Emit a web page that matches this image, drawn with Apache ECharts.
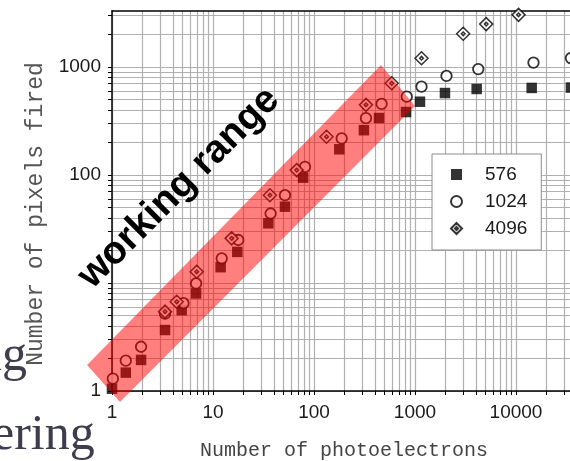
<!DOCTYPE html>
<html><head><meta charset="utf-8">
<script src="https://cdn.jsdelivr.net/npm/echarts@6/dist/echarts.min.js"></script>
<style>html,body{margin:0;padding:0;background:#fff}#c{width:570px;height:461px}</style>
</head><body><div id="c"></div>
<script>
// ---- data ----
const seriesNames = ['576', '1024', '4096'];
const x576 = [1.0, 1.37, 1.94, 3.35, 4.9, 6.8, 11.9, 17.4, 35.3, 51.6, 78, 178, 312, 440, 815, 1120, 1980, 4080, 14300, 35000];
const y576 = [1.05, 1.48, 1.94, 3.67, 5.6, 8.0, 14, 19.4, 35.7, 50.9, 94.5, 173, 260, 337, 383, 477, 574, 626, 640, 645];
const x1024 = [1.02, 1.37, 1.94, 3.35, 5.1, 6.8, 12.2, 17.8, 37.2, 51.6, 81.5, 188, 327, 467, 829, 1160, 2050, 4230, 14900, 35000];
const y1024 = [1.3, 1.91, 2.57, 5.2, 6.5, 9.9, 16.9, 25, 44, 65, 119, 218, 336, 455, 532, 658, 826, 957, 1098, 1210];
const x4096 = [3.35, 4.37, 6.9, 15.3, 36.6, 67.4, 133, 327, 588, 1160, 3000, 5070, 10600];
const y4096 = [5.43, 6.7, 12.7, 25.9, 65, 111, 226, 446, 707, 1206, 2030, 2495, 3040];
// working-range band corners (data space)
const bandX = [0.566, 1.2, 1000, 461];
const bandY = [1.74, 0.79, 435, 1044];
// axis ticks / labels
const xLabels = [1, 10, 100, 1000, 10000];
const yLabels = [1, 100, 1000];
const xTicks = [1,2,3,4,5,6,7,8,9,10,20,30,40,50,60,70,80,90,100,200,300,400,500,600,700,800,900,1000,2000,3000,4000,5000,6000,7000,8000,9000,10000,20000,30000,40000,50000,60000,70000,80000,90000,100000];
const yTicks = [1,2,3,4,5,6,7,8,9,10,20,30,40,50,60,70,80,90,100,200,300,400,500,600,700,800,900,1000,2000,3000];

const zip = (xs, ys) => xs.map((v, i) => [v, ys[i]]);
const SANS = '"Liberation Sans", Arial, sans-serif';
const MONO = '"Liberation Mono", "Courier New", monospace';
const SERIF = '"Liberation Serif", "Times New Roman", serif';
const GRID = {color: '#b0b0b0', width: 1.2};

const chart = echarts.init(document.getElementById('c'));
chart.setOption({
  animation: false,
  backgroundColor: '#fff',
  grid: {left: 112, top: 11, width: 505, height: 380, containLabel: false, outerBoundsMode: 'none'},
  legend: {
    orient: 'vertical', left: 432, top: 154,
    backgroundColor: '#fff', borderColor: '#8c8c8c', borderWidth: 1,
    padding: [11, 14, 12, 18], itemGap: 8, itemWidth: 11, itemHeight: 11,
    textStyle: {fontSize: 19, fontFamily: SANS, color: '#1a1a1a', padding: [0, 0, 0, 18]},
    data: seriesNames
  },
  xAxis: [{
    type: 'log', logBase: 10, min: 1, max: 100000, position: 'bottom',
    axisLine: {show: true, onZero: false, lineStyle: {color: '#000', width: 1.5}},
    axisTick: {show: true, customValues: xTicks, length: 4, lineStyle: {color: '#000', width: 1}},
    axisLabel: {customValues: xLabels, margin: 12, fontSize: 19, fontFamily: SANS, color: '#1a1a1a',
      formatter: v => String(Math.round(v))},
    splitLine: {show: true, lineStyle: GRID},
    name: 'Number of photoelectrons', nameLocation: 'middle', nameGap: 50,
    nameTextStyle: {fontSize: 20, fontFamily: MONO, color: '#444', padding: [0, 41, 0, 0]}
  }, {
    type: 'log', logBase: 10, min: 1, max: 100000, position: 'top',
    axisLine: {show: true, lineStyle: {color: '#000', width: 1.5}},
    axisTick: {show: false}, axisLabel: {show: false}, splitLine: {show: false}
  }],
  yAxis: {
    type: 'log', logBase: 10, min: 1, max: 3300,
    axisLine: {show: true, onZero: false, lineStyle: {color: '#000', width: 1.5}},
    axisTick: {show: true, customValues: yTicks, length: 4, lineStyle: {color: '#000', width: 1}},
    axisLabel: {customValues: yLabels, margin: 11, fontSize: 19, fontFamily: SANS, color: '#1a1a1a',
      formatter: v => String(Math.round(v))},
    splitLine: {show: true, lineStyle: GRID},
    name: 'Number of pixels fired', nameLocation: 'middle', nameGap: 64,
    nameTextStyle: {fontSize: 23, fontFamily: MONO, color: '#555', padding: [0, 26, 0, 0]}
  },
  series: [
    {name: '576', type: 'scatter', symbol: 'rect', symbolSize: 10.5, z: 2,
     itemStyle: {color: '#000'}, data: zip(x576, y576)},
    {name: '1024', type: 'scatter', symbol: 'circle', symbolSize: 10.5, z: 2,
     itemStyle: {color: '#fff', borderColor: '#000', borderWidth: 1.8}, data: zip(x1024, y1024)},
    {name: '4096', type: 'scatter', symbolSize: 13, z: 2,
     symbol: 'path://M50,0L100,50L50,100L0,50Z M50,36L64,50L50,64L36,50Z',
     itemStyle: {color: '#fff', borderColor: '#000', borderWidth: 1.5}, data: zip(x4096, y4096)},
    {type: 'custom', z: 5, silent: true, clip: false, data: [[10, 10]],
     renderItem: (params, api) => ({
       type: 'polygon',
       shape: {points: bandX.map((v, i) => api.coord([v, bandY[i]]))},
       style: {fill: 'rgba(255,0,0,0.5)', stroke: 'none'}
     })}
  ],
  graphic: [
    {type: 'text', x: 179, y: 188, rotation: Math.PI / 4, z: 100,
     style: {text: 'working range', font: 'bold 39px ' + SANS, fill: '#000', align: 'center', verticalAlign: 'middle'}},
    {type: 'text', x: 27, y: 357, z: 100,
     style: {text: 'ng', font: '50px ' + SERIF, fill: '#3d3d4d', align: 'right', verticalAlign: 'middle'}},
    {type: 'text', x: -8, y: 436, z: 100,
     style: {text: 'ering', font: '50px ' + SERIF, fill: '#3d3d4d', align: 'left', verticalAlign: 'middle'}}
  ]
});
</script></body></html>
